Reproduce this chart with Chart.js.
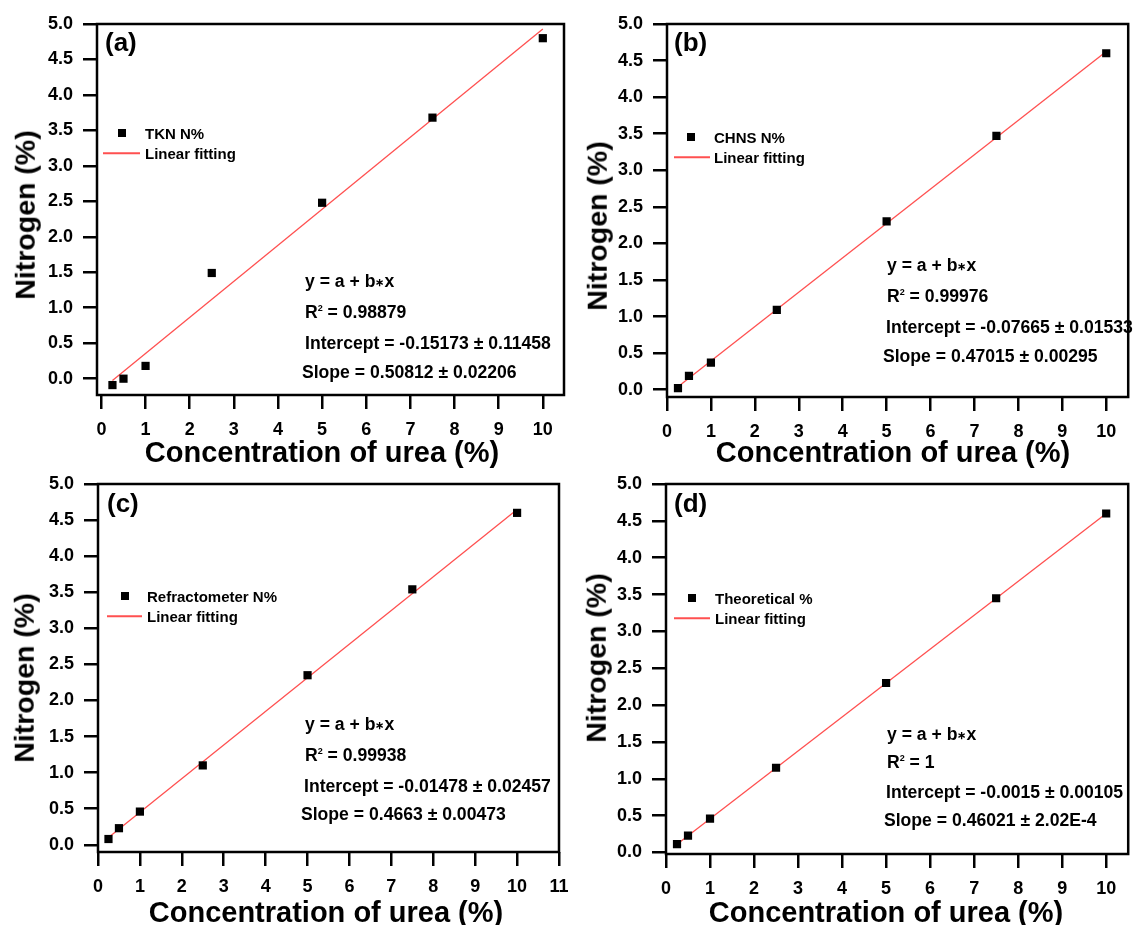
<!DOCTYPE html>
<html lang="en">
<head>
<meta charset="UTF-8">
<title>Nitrogen vs concentration of urea</title>
<script src="https://cdn.jsdelivr.net/npm/chart.js"></script>
<style>
  body { margin: 0; background: #fff; }
  #page {
    position: relative; width: 1134px; height: 925px; overflow: hidden;
    font-family: 'Liberation Sans', Arial, sans-serif; font-weight: bold; color: #000;
  }
  canvas { position: absolute; left: 0; top: 0; }
  .txt { position: absolute; white-space: nowrap; line-height: 1; transform: translateY(-50%); }
  .tag { font-size: 26px; }
  .legend { font-size: 15px; }
  .info { font-size: 17.6px; }
  .info sup { font-size: 9px; line-height: 0; vertical-align: 7px; }
  .info .star { font-size: 11px; vertical-align: 1px; }
  .title { position: absolute; font-size: 29px; white-space: nowrap; line-height: 1; transform: translate(-50%, -50%); }
  .title.vertical { font-size: 28.5px; transform: translate(-50%, -50%) rotate(-90deg); }
  .mark { position: absolute; width: 8px; height: 8px; background: #000; transform: translate(-50%, -50%); }
  .sample { position: absolute; height: 1.5px; background: #ff5050; transform: translateY(-50%); }
</style>
</head>
<body>
<div id="page"></div>

<script>
  // values
  const concentration = [0.25, 0.5, 1, 2.5, 5, 7.5, 10];
  const tknN = [-0.09, 0.0, 0.18, 1.49, 2.48, 3.68, 4.80];
  const chnsN = [0.02, 0.19, 0.37, 1.09, 2.30, 3.47, 4.60];
  const refractometerN = [0.08, 0.23, 0.46, 1.10, 2.35, 3.54, 4.60];
  const theoreticalN = [0.115, 0.23, 0.46, 1.15, 2.30, 3.45, 4.60];
  const seriesNames = ['TKN N%', 'CHNS N%', 'Refractometer N%', 'Theoretical %'];
  const panelTags = ['(a)', '(b)', '(c)', '(d)'];

  // linear fits as printed in each panel
  const fitIntercept = [-0.15173, -0.07665, -0.01478, -0.0015];
  const fitInterceptErr = ['0.11458', '0.01533', '0.02457', '0.00105'];
  const fitSlope = [0.50812, 0.47015, 0.4663, 0.46021];
  const fitSlopeErr = ['0.02206', '0.00295', '0.00473', '2.02E-4'];
  const fitR2 = ['0.98879', '0.99976', '0.99938', '1'];
  const fitSpan = [0.25, 10];

  const yTicks = [0, 0.5, 1, 1.5, 2, 2.5, 3, 3.5, 4, 4.5, 5];
  const xTicks10 = [0, 1, 2, 3, 4, 5, 6, 7, 8, 9, 10];
  const xTicks11 = [0, 1, 2, 3, 4, 5, 6, 7, 8, 9, 10, 11];

  const series = [tknN, chnsN, refractometerN, theoreticalN];

  // page layout of the four panels (plot box = left, top, right, bottom)
  const layout = [
    { box: [97, 24, 564, 395], x: [-0.1, 10.48], y: [-0.23, 5], xTicks: xTicks10,
      tag: [105, 42], legend: { mark: 122, text: 145, line: [103, 140], rows: [133, 153] },
      info: { x: [305, 305, 305, 302], y: [282, 313, 344, 373] },
      yTitle: [25, 215], xTitle: [322, 452] },
    { box: [667, 24, 1133, 397], x: [0, 10.5], y: [-0.1, 5], xTicks: xTicks10,
      tag: [674, 42], legend: { mark: 691, text: 714, line: [674, 710], rows: [137, 157] },
      info: { x: [887, 887, 886, 883], y: [266, 297, 328, 357] },
      yTitle: [597, 226], xTitle: [893, 452] },
    { box: [98, 484, 559, 852], x: [0, 11], y: [-0.1, 5], xTicks: xTicks11,
      tag: [107, 503], legend: { mark: 125, text: 147, line: [107, 142], rows: [596, 616] },
      info: { x: [305, 305, 304, 301], y: [725, 756, 787, 815] },
      yTitle: [24, 678], xTitle: [326, 912] },
    { box: [666, 484, 1131, 854], x: [0, 10.5], y: [-0.02, 5], xTicks: xTicks10,
      tag: [674, 503], legend: { mark: 692, text: 715, line: [674, 710], rows: [598, 618] },
      info: { x: [887, 887, 886, 884], y: [735, 763, 793, 821] },
      yTitle: [596, 658], xTitle: [886, 912] }
  ];

  const W = 1134, H = 925;
  const Y_AXIS_W = 60, X_AXIS_H = 45;
  const page = document.getElementById('page');

  Chart.defaults.font.family = "'Liberation Sans', Arial, sans-serif";
  Chart.defaults.font.weight = 'bold';
  Chart.defaults.color = '#000';

  // closed box around the plot area
  const frame = {
    id: 'frame',
    afterDatasetsDraw(chart) {
      const { ctx, chartArea: a } = chart;
      ctx.save();
      ctx.strokeStyle = '#000';
      ctx.lineWidth = 2.5;
      ctx.strokeRect(a.left, a.top, a.right - a.left, a.bottom - a.top);
      ctx.restore();
    }
  };

  const tickGrid = { drawOnChartArea: false, drawTicks: true, tickLength: 14, color: '#000', lineWidth: 2.5 };

  function addText(cls, x, y, html) {
    const el = document.createElement('div');
    el.className = cls;
    el.style.left = x + 'px';
    el.style.top = y + 'px';
    el.innerHTML = html;
    page.appendChild(el);
    return el;
  }

  layout.forEach((p, i) => {
    const cv = document.createElement('canvas');
    cv.width = W;
    cv.height = H;
    page.appendChild(cv);

    const [L, T, R, B] = p.box;
    const points = concentration.map((x, k) => ({ x: x, y: series[i][k] }));
    const fitLine = fitSpan.map(x => ({ x: x, y: fitIntercept[i] + fitSlope[i] * x }));

    new Chart(cv, {
      type: 'scatter',
      data: {
        datasets: [
          { label: seriesNames[i], data: points, pointStyle: 'rect', pointRadius: 5.8,
            backgroundColor: '#000', borderWidth: 0, order: 1 },
          { label: 'Linear fitting', data: fitLine, showLine: true, pointRadius: 0,
            borderColor: '#ff5050', borderWidth: 1.3, order: 2 }
        ]
      },
      options: {
        responsive: false,
        animation: false,
        events: [],
        layout: { padding: { left: L - Y_AXIS_W, top: T, right: W - R, bottom: H - B - X_AXIS_H } },
        plugins: { legend: { display: false }, tooltip: { enabled: false } },
        scales: {
          x: {
            type: 'linear', min: p.x[0], max: p.x[1],
            afterBuildTicks: s => { s.ticks = p.xTicks.map(v => ({ value: v })); },
            afterFit: s => { s.height = X_AXIS_H; },
            grid: tickGrid, border: { display: false },
            ticks: { padding: 10, font: { size: 18, weight: 'bold' }, callback: v => String(v) }
          },
          y: {
            type: 'linear', min: p.y[0], max: p.y[1],
            afterBuildTicks: s => { s.ticks = yTicks.map(v => ({ value: v })); },
            afterFit: s => { s.width = Y_AXIS_W; },
            grid: tickGrid, border: { display: false },
            ticks: { padding: 10, font: { size: 18, weight: 'bold' }, callback: v => v.toFixed(1) }
          }
        }
      },
      plugins: [frame]
    });

    // panel tag, legend, fit results, axis titles
    addText('txt tag', p.tag[0], p.tag[1], panelTags[i]);

    const lg = p.legend;
    const mk = document.createElement('div');
    mk.className = 'mark';
    mk.style.left = lg.mark + 'px';
    mk.style.top = lg.rows[0] + 'px';
    page.appendChild(mk);
    addText('txt legend', lg.text, lg.rows[0], seriesNames[i]);
    const ln = document.createElement('div');
    ln.className = 'sample';
    ln.style.left = lg.line[0] + 'px';
    ln.style.width = (lg.line[1] - lg.line[0]) + 'px';
    ln.style.top = lg.rows[1] + 'px';
    page.appendChild(ln);
    addText('txt legend', lg.text, lg.rows[1], 'Linear fitting');

    const info = [
      'y = a + b<span class="star">\u2217</span>x',
      'R<sup>2</sup> = ' + fitR2[i],
      'Intercept = ' + fitIntercept[i] + ' \u00b1 ' + fitInterceptErr[i],
      'Slope = ' + fitSlope[i] + ' \u00b1 ' + fitSlopeErr[i]
    ];
    info.forEach((t, k) => addText('txt info', p.info.x[k], p.info.y[k], t));

    addText('title vertical', p.yTitle[0], p.yTitle[1], 'Nitrogen (%)');
    addText('title', p.xTitle[0], p.xTitle[1], 'Concentration of urea (%)');
  });
</script>
</body>
</html>
